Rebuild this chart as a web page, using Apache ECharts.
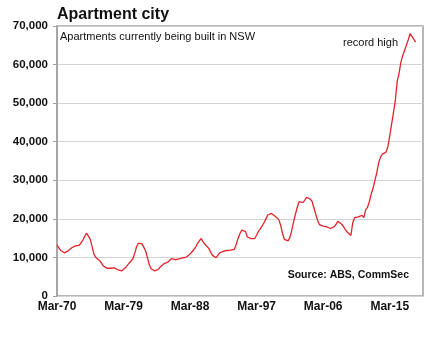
<!DOCTYPE html>
<html>
<head>
<meta charset="utf-8">
<script src="https://cdn.jsdelivr.net/npm/echarts@6/dist/echarts.min.js"></script>
<style>
  html, body { margin: 0; padding: 0; background: #fff; }
  #chart { width: 444px; height: 339px; }
</style>
</head>
<body>
<div id="chart"></div>
<script>
// Apartments under construction in NSW, quarterly from Mar-70
const startYear = 1970;
const quarterCount = 199; // axis runs a little past the last observation
const tickYears = ['Mar-70', 'Mar-79', 'Mar-88', 'Mar-97', 'Mar-06', 'Mar-15'];
const yTicks = [0, 10000, 20000, 30000, 40000, 50000, 60000, 70000];

const apartmentsUnderConstruction = [
  13200, 12500, 11800, 11300, 11200, 11500, 11700, 11900, 12500, 12900,
  13000, 13100, 13100, 13500, 14500, 15500, 16300, 15800, 14700, 12800,
  10800, 10000, 9500, 9200, 8600, 7800, 7300, 7200, 7300, 7200,
  7200, 7300, 7100, 6800, 6300, 6500, 6900, 7300, 7700, 8500,
  9000, 9600, 11000, 12700, 13700, 14000, 13500, 12600, 11600, 9800,
  8000, 7000, 6600, 6500, 6600, 7000, 7600, 8100, 8400, 8700,
  8800, 9200, 9700, 9500, 9400, 9400, 9600, 9900, 9900, 10000,
  10100, 10400, 10900, 11300, 12000, 12700, 13600, 14300, 14900, 14100,
  13400, 12900, 12400, 11500, 10600, 10200, 9900, 10200, 11200, 11500,
  11600, 11700, 11800, 12000, 11900, 11700, 12100, 13500, 15000, 16200,
  17100, 17000, 16700, 15300, 15000, 14900, 14900, 14900, 15800, 16800,
  17400, 17900, 19000, 20000, 21000, 21200, 21400, 21000, 20700, 21000,
  19800, 18300, 16200, 14700, 14300, 14300, 15200, 17000, 19300, 21200,
  23000, 24500, 24900, 24200, 24800, 25600, 25400, 25100, 24500, 22800,
  21200, 19600, 18500, 18000, 18100, 18300, 17900, 17600, 17500, 17500,
  18000, 18600, 19400, 19600, 18600, 18000, 17200, 16600, 16100, 15700,
  19000, 20300, 20700, 20500, 20600, 20900, 20300, 22400, 23000, 24500,
  26500, 28000, 30000, 32000, 34500, 36000, 36800, 37000, 37300, 38700,
  41500, 44500, 47500, 50500, 55500, 57600, 60500, 62300, 63600, 65000,
  66400, 68000, 67500, 66600, 65800
];

// Quarter labels: Mar, Jun, Sep, Dec of each year
const quarterMonths = ['Mar', 'Jun', 'Sep', 'Dec'];
const quarters = [];
for (let i = 0; i < quarterCount; i++) {
  const yr = startYear + Math.floor(i / 4);
  quarters.push(quarterMonths[i % 4] + '-' + String(yr % 100).padStart(2, '0'));
}

const chart = echarts.init(document.getElementById('chart'), null, { renderer: 'canvas' });
const font = 'Arial, "Liberation Sans", Helvetica, sans-serif';

chart.setOption({
  backgroundColor: '#ffffff',
  animation: false,
  title: {
    text: 'Apartment city',
    left: 52,
    top: 2,
    textStyle: { fontFamily: font, fontSize: 16, fontWeight: 'bold', color: '#111' }
  },
  grid: {
    left: 57, right: 21, top: 26, bottom: 43,
    show: true, borderColor: '#a0a0a0', borderWidth: 1.5, backgroundColor: '#fff'
  },
  xAxis: {
    type: 'category',
    data: quarters,
    boundaryGap: false,
    axisLine: { show: false },
    axisTick: { show: false },
    splitLine: { show: false },
    axisLabel: {
      interval: (idx, val) => tickYears.includes(val),
      hideOverlap: false,
      fontFamily: font, fontSize: 12, fontWeight: 'bold', color: '#111', margin: 5
    }
  },
  yAxis: {
    type: 'value',
    min: yTicks[0],
    max: yTicks[yTicks.length - 1],
    interval: yTicks[1] - yTicks[0],
    axisLine: { show: true, lineStyle: { color: '#a0a0a0', width: 1.5 } },
    axisTick: { show: true, length: 4, lineStyle: { color: '#a0a0a0' } },
    splitLine: { show: true, lineStyle: { color: '#d4d4d4', width: 1 } },
    axisLabel: {
      fontFamily: font, fontSize: 11.5, fontWeight: 'bold', color: '#111', margin: 9,
      formatter: v => v.toLocaleString('en-US')
    }
  },
  series: [{
    name: 'Apartments under construction',
    type: 'line',
    data: apartmentsUnderConstruction,
    showSymbol: false,
    smooth: false,
    lineStyle: { color: '#e3242b', width: 1.3 },
    itemStyle: { color: '#e3242b' },
    z: 5
  }],
  graphic: [
    {
      type: 'text', left: 60, top: 31,
      style: { text: 'Apartments currently being built in NSW', font: '11px ' + font, fill: '#111' }
    },
    {
      type: 'text', left: 343, top: 37,
      style: { text: 'record high', font: '11px ' + font, fill: '#111' }
    },
    {
      type: 'text', right: 35, top: 270,
      style: { text: 'Source: ABS, CommSec', font: 'bold 10.5px ' + font, fill: '#111' }
    }
  ]
});
</script>
</body>
</html>
